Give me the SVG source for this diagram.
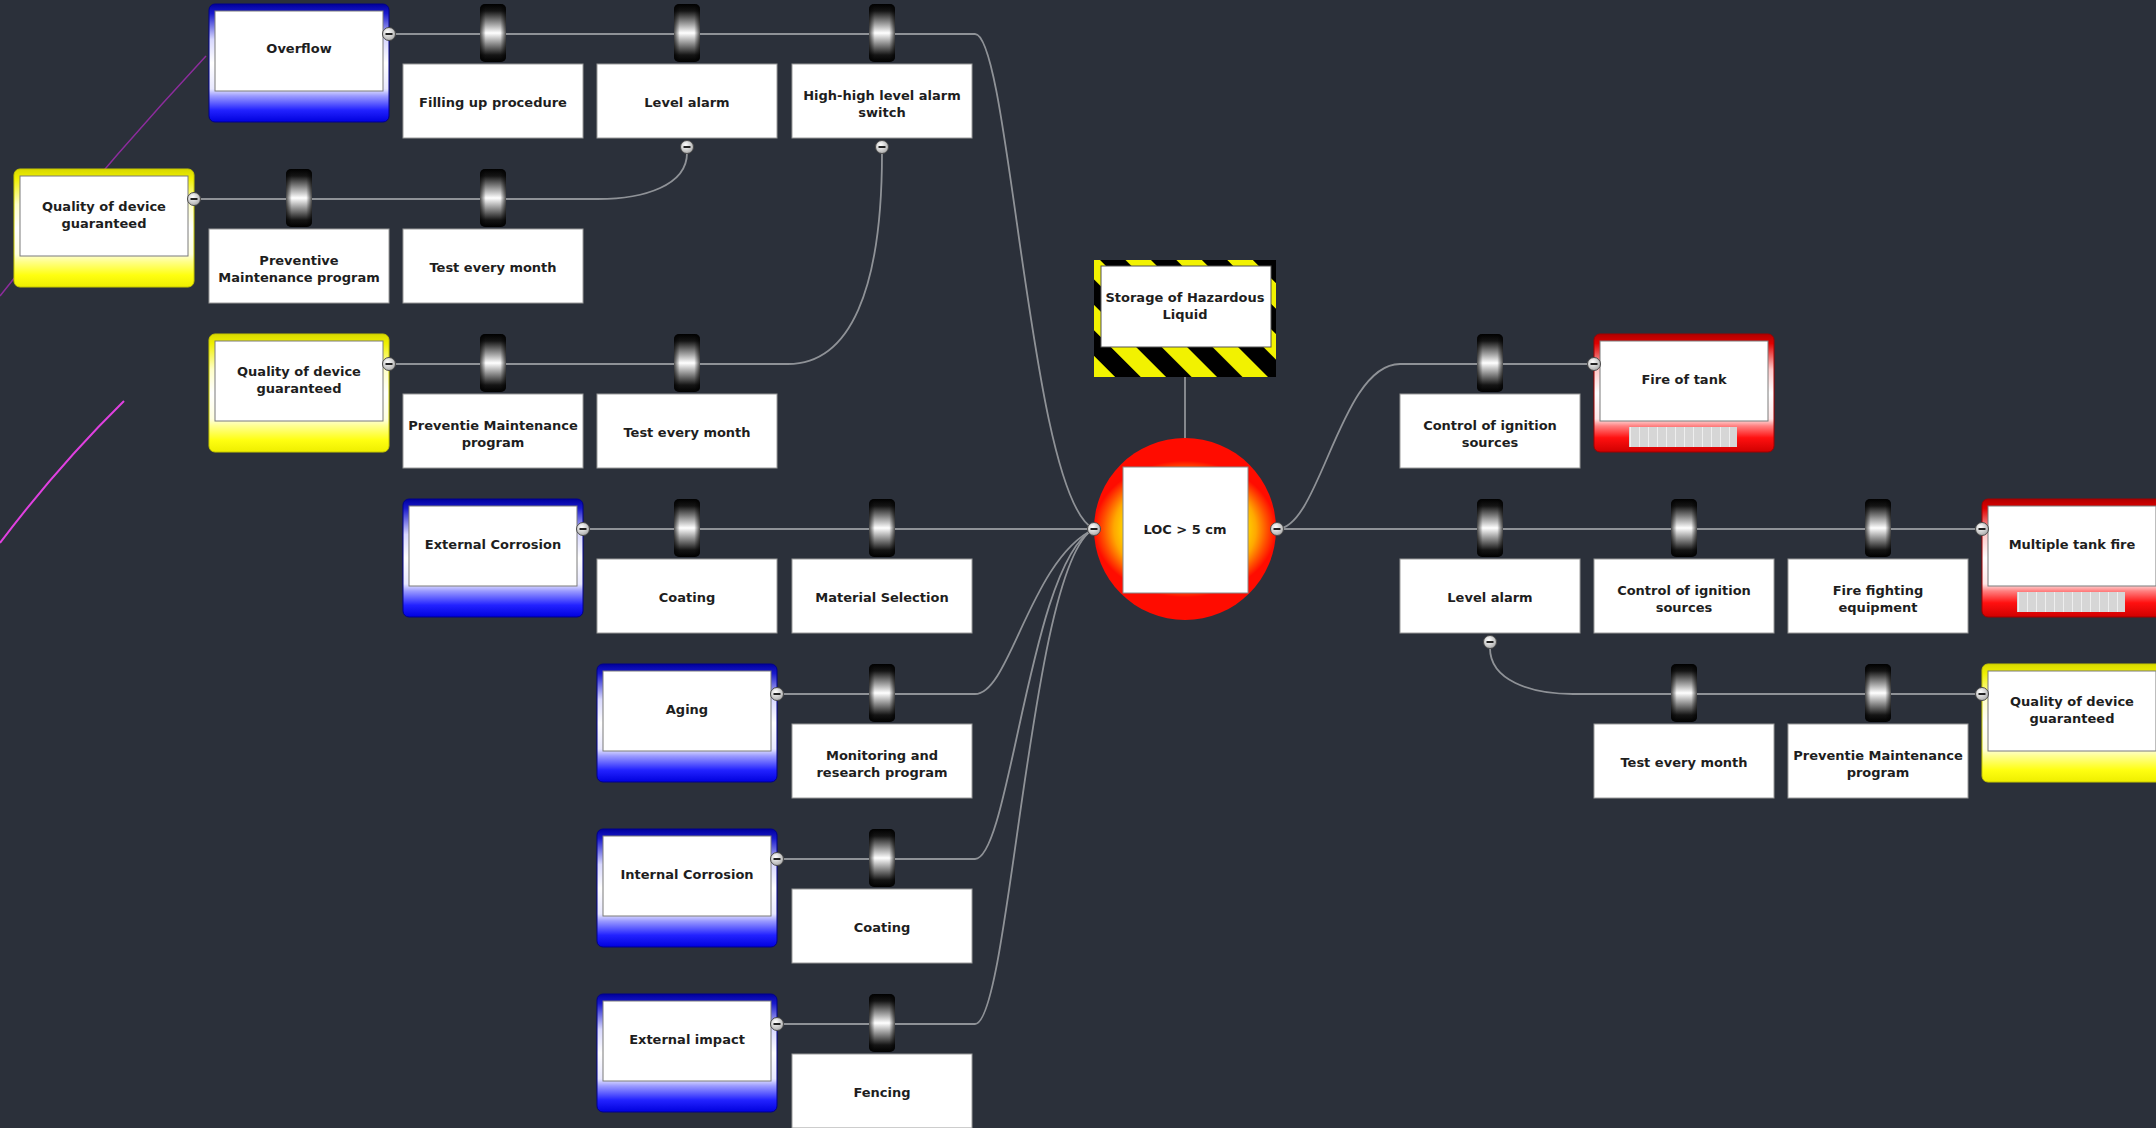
<svg xmlns="http://www.w3.org/2000/svg" xmlns:xlink="http://www.w3.org/1999/xlink" width="2156" height="1128" viewBox="0 0 2156 1128">
<style>
.t{font-family:"DejaVu Sans","Liberation Sans",sans-serif;font-weight:bold;font-size:13px;fill:#1e1e1e;text-anchor:middle}
.box{fill:#ffffff;stroke:#9a9a9a;stroke-width:1}
.in{fill:#ffffff;stroke:#7a7a7a;stroke-width:1}
.cn{fill:none;stroke:#8f9297;stroke-width:1.8}
</style>
<defs>
<linearGradient id="gBlue" x1="0" y1="0" x2="0" y2="1">
<stop offset="0" stop-color="#00009c"/><stop offset="0.08" stop-color="#1a1acc"/><stop offset="0.3" stop-color="#d8d8ff"/><stop offset="0.5" stop-color="#ffffff"/><stop offset="0.72" stop-color="#e8e8ff"/><stop offset="0.78" stop-color="#9a9aff"/><stop offset="0.9" stop-color="#2222ff"/><stop offset="1" stop-color="#0000dd"/>
</linearGradient>
<linearGradient id="gYellow" x1="0" y1="0" x2="0" y2="1">
<stop offset="0" stop-color="#d8d800"/><stop offset="0.08" stop-color="#f0f000"/><stop offset="0.3" stop-color="#ffffc8"/><stop offset="0.5" stop-color="#ffffff"/><stop offset="0.72" stop-color="#ffffe0"/><stop offset="0.78" stop-color="#ffff90"/><stop offset="0.9" stop-color="#ffff10"/><stop offset="1" stop-color="#eeee00"/>
</linearGradient>
<linearGradient id="gRed" x1="0" y1="0" x2="0" y2="1">
<stop offset="0" stop-color="#b00000"/><stop offset="0.08" stop-color="#e00000"/><stop offset="0.3" stop-color="#ffc8c8"/><stop offset="0.5" stop-color="#ffffff"/><stop offset="0.72" stop-color="#ffe8e8"/><stop offset="0.78" stop-color="#ff8080"/><stop offset="0.88" stop-color="#ff1010"/><stop offset="1" stop-color="#d00000"/>
</linearGradient>
<linearGradient id="gBarV" x1="0" y1="0" x2="0" y2="1">
<stop offset="0" stop-color="#000"/><stop offset="0.12" stop-color="#151515"/><stop offset="0.5" stop-color="#ffffff"/><stop offset="0.88" stop-color="#151515"/><stop offset="1" stop-color="#000"/>
</linearGradient>
<linearGradient id="gBarH" x1="0" y1="0" x2="1" y2="0">
<stop offset="0" stop-color="#000" stop-opacity="0.7"/><stop offset="0.22" stop-color="#000" stop-opacity="0"/><stop offset="0.78" stop-color="#000" stop-opacity="0"/><stop offset="1" stop-color="#000" stop-opacity="0.7"/>
</linearGradient>
<radialGradient id="gMb" cx="0.4" cy="0.35" r="0.7">
<stop offset="0" stop-color="#ffffff"/><stop offset="1" stop-color="#a8a8a8"/>
</radialGradient>
<radialGradient id="gLoc" cx="0.5" cy="0.5" r="0.5" gradientTransform="translate(0.5 0.5) scale(1 0.75) translate(-0.5 -0.5)">
<stop offset="0" stop-color="#ffff00"/><stop offset="0.66" stop-color="#ffd800"/><stop offset="0.78" stop-color="#ffa800"/><stop offset="0.9" stop-color="#ff5000"/><stop offset="1" stop-color="#ff0c00"/>
</radialGradient>
<pattern id="pHaz" width="36" height="36" patternUnits="userSpaceOnUse" patternTransform="rotate(-45)">
<rect width="36" height="36" fill="#000"/><rect width="18" height="36" fill="#f2f200"/>
</pattern>
<pattern id="pGrey" width="9" height="20" patternUnits="userSpaceOnUse">
<rect width="9" height="20" fill="#d6d6d6"/><rect width="1" height="20" fill="#eeeeee"/>
</pattern>
<g id="mb"><circle r="6.5" fill="url(#gMb)" stroke="#4a4a4a" stroke-width="1"/><rect x="-3.5" y="-1" width="7" height="2" fill="#222"/></g>
<g id="barrier"><rect width="26" height="58" rx="5" fill="url(#gBarV)"/><rect width="26" height="58" rx="5" fill="url(#gBarH)"/></g>
</defs>
<rect width="2156" height="1128" fill="#2b303a"/>

<g id="stray-lines">
<path d="M 206 56 Q 100 170 0 296" fill="none" stroke="#8c2c9c" stroke-width="1.5"/>
<path d="M 124 401 Q 58 466 0 543" fill="none" stroke="#e040e0" stroke-width="2"/>
</g>

<g id="connectors">
<path class="cn" d="M 389 34 H 975 C 1010 34 1030 500 1094 529"/>
<path class="cn" d="M 194 199 H 598 C 645 199 687 185 687 153"/>
<path class="cn" d="M 389 364 H 788 C 850 364 882 290 882 153"/>
<path class="cn" d="M 583 529 H 1094"/>
<path class="cn" d="M 777 694 H 975 C 1010 694 1030 560 1094 529"/>
<path class="cn" d="M 777 859 H 975 C 1010 859 1030 560 1094 529"/>
<path class="cn" d="M 777 1024 H 975 C 1010 1024 1030 560 1094 529"/>
<path class="cn" d="M 1185 377 V 438"/>
<path class="cn" d="M 1277 529 C 1320 529 1340 364 1400 364 H 1594"/>
<path class="cn" d="M 1277 529 H 1982"/>
<path class="cn" d="M 1490 648 C 1490 680 1530 694 1573 694 H 1982"/>
</g>

<g id="hazard">
<rect x="1094" y="260" width="182" height="117" fill="url(#pHaz)"/>
<rect x="1101" y="266" width="170" height="81" fill="#fff" stroke="#555" stroke-width="1"/>
<text class="t" x="1185" y="302">Storage of Hazardous</text>
<text class="t" x="1185" y="319">Liquid</text>
</g>

<g id="top-event">
<circle cx="1185" cy="529" r="91" fill="url(#gLoc)"/>
<rect x="1123" y="467" width="125" height="126" fill="#fff" stroke="#8a8a8a" stroke-width="1"/>
<text class="t" x="1185" y="534">LOC &gt; 5 cm</text>
<use href="#mb" x="1094" y="529"/>
<use href="#mb" x="1277" y="529"/>
</g>

<!-- threats -->
<g id="t-overflow" transform="translate(209,34)">
<rect x="0" y="-30" width="180" height="118" rx="6" fill="url(#gBlue)" stroke="#00008a"/>
<rect class="in" x="6" y="-23" width="168" height="80"/>
<text class="t" x="90" y="19">Overflow</text>
<use href="#mb" x="180" y="0"/>
</g>
<g id="t-quality1" transform="translate(14,199)">
<rect x="0" y="-30" width="180" height="118" rx="6" fill="url(#gYellow)" stroke="#c8c800"/>
<rect class="in" x="6" y="-23" width="168" height="80"/>
<text class="t" x="90" y="12">Quality of device</text>
<text class="t" x="90" y="29">guaranteed</text>
<use href="#mb" x="180" y="0"/>
</g>
<g id="t-quality2" transform="translate(209,364)">
<rect x="0" y="-30" width="180" height="118" rx="6" fill="url(#gYellow)" stroke="#c8c800"/>
<rect class="in" x="6" y="-23" width="168" height="80"/>
<text class="t" x="90" y="12">Quality of device</text>
<text class="t" x="90" y="29">guaranteed</text>
<use href="#mb" x="180" y="0"/>
</g>
<g id="t-extcorr" transform="translate(403,529)">
<rect x="0" y="-30" width="180" height="118" rx="6" fill="url(#gBlue)" stroke="#00008a"/>
<rect class="in" x="6" y="-23" width="168" height="80"/>
<text class="t" x="90" y="20">External Corrosion</text>
<use href="#mb" x="180" y="0"/>
</g>
<g id="t-aging" transform="translate(597,694)">
<rect x="0" y="-30" width="180" height="118" rx="6" fill="url(#gBlue)" stroke="#00008a"/>
<rect class="in" x="6" y="-23" width="168" height="80"/>
<text class="t" x="90" y="20">Aging</text>
<use href="#mb" x="180" y="0"/>
</g>
<g id="t-intcorr" transform="translate(597,859)">
<rect x="0" y="-30" width="180" height="118" rx="6" fill="url(#gBlue)" stroke="#00008a"/>
<rect class="in" x="6" y="-23" width="168" height="80"/>
<text class="t" x="90" y="20">Internal Corrosion</text>
<use href="#mb" x="180" y="0"/>
</g>
<g id="t-extimpact" transform="translate(597,1024)">
<rect x="0" y="-30" width="180" height="118" rx="6" fill="url(#gBlue)" stroke="#00008a"/>
<rect class="in" x="6" y="-23" width="168" height="80"/>
<text class="t" x="90" y="20">External impact</text>
<use href="#mb" x="180" y="0"/>
</g>

<!-- consequences -->
<g id="c-firetank" transform="translate(1594,364)">
<rect x="0" y="-30" width="180" height="118" rx="6" fill="url(#gRed)" stroke="#a00000"/>
<rect class="in" x="6" y="-23" width="168" height="80"/>
<rect x="35" y="63" width="108" height="20" fill="url(#pGrey)"/>
<text class="t" x="90" y="20">Fire of tank</text>
<use href="#mb" x="0" y="0"/>
</g>
<g id="c-multi" transform="translate(1982,529)">
<rect x="0" y="-30" width="180" height="118" rx="6" fill="url(#gRed)" stroke="#a00000"/>
<rect class="in" x="6" y="-23" width="168" height="80"/>
<rect x="35" y="63" width="108" height="20" fill="url(#pGrey)"/>
<text class="t" x="90" y="20">Multiple tank fire</text>
<use href="#mb" x="0" y="0"/>
</g>
<g id="c-quality3" transform="translate(1982,694)">
<rect x="0" y="-30" width="180" height="118" rx="6" fill="url(#gYellow)" stroke="#c8c800"/>
<rect class="in" x="6" y="-23" width="168" height="80"/>
<text class="t" x="90" y="12">Quality of device</text>
<text class="t" x="90" y="29">guaranteed</text>
<use href="#mb" x="0" y="0"/>
</g>

<!-- barriers / controls -->
<g id="b-filling" transform="translate(403,34)">
<use href="#barrier" x="77" y="-30"/><rect class="box" x="0" y="30" width="180" height="74"/>
<text class="t" x="90" y="73">Filling up procedure</text>
</g>
<g id="b-levelalarm1" transform="translate(597,34)">
<use href="#barrier" x="77" y="-30"/><rect class="box" x="0" y="30" width="180" height="74"/>
<text class="t" x="90" y="73">Level alarm</text>
<use href="#mb" x="90" y="113"/>
</g>
<g id="b-highhigh" transform="translate(792,34)">
<use href="#barrier" x="77" y="-30"/><rect class="box" x="0" y="30" width="180" height="74"/>
<text class="t" x="90" y="66">High-high level alarm</text>
<text class="t" x="90" y="83">switch</text>
<use href="#mb" x="90" y="113"/>
</g>
<g id="b-pm1" transform="translate(209,199)">
<use href="#barrier" x="77" y="-30"/><rect class="box" x="0" y="30" width="180" height="74"/>
<text class="t" x="90" y="66">Preventive</text>
<text class="t" x="90" y="83">Maintenance program</text>
</g>
<g id="b-test1" transform="translate(403,199)">
<use href="#barrier" x="77" y="-30"/><rect class="box" x="0" y="30" width="180" height="74"/>
<text class="t" x="90" y="73">Test every month</text>
</g>
<g id="b-pm2" transform="translate(403,364)">
<use href="#barrier" x="77" y="-30"/><rect class="box" x="0" y="30" width="180" height="74"/>
<text class="t" x="90" y="66">Preventie Maintenance</text>
<text class="t" x="90" y="83">program</text>
</g>
<g id="b-test2" transform="translate(597,364)">
<use href="#barrier" x="77" y="-30"/><rect class="box" x="0" y="30" width="180" height="74"/>
<text class="t" x="90" y="73">Test every month</text>
</g>
<g id="b-coating1" transform="translate(597,529)">
<use href="#barrier" x="77" y="-30"/><rect class="box" x="0" y="30" width="180" height="74"/>
<text class="t" x="90" y="73">Coating</text>
</g>
<g id="b-material" transform="translate(792,529)">
<use href="#barrier" x="77" y="-30"/><rect class="box" x="0" y="30" width="180" height="74"/>
<text class="t" x="90" y="73">Material Selection</text>
</g>
<g id="b-monitor" transform="translate(792,694)">
<use href="#barrier" x="77" y="-30"/><rect class="box" x="0" y="30" width="180" height="74"/>
<text class="t" x="90" y="66">Monitoring and</text>
<text class="t" x="90" y="83">research program</text>
</g>
<g id="b-coating2" transform="translate(792,859)">
<use href="#barrier" x="77" y="-30"/><rect class="box" x="0" y="30" width="180" height="74"/>
<text class="t" x="90" y="73">Coating</text>
</g>
<g id="b-fencing" transform="translate(792,1024)">
<use href="#barrier" x="77" y="-30"/><rect class="box" x="0" y="30" width="180" height="74"/>
<text class="t" x="90" y="73">Fencing</text>
</g>
<g id="b-ign1" transform="translate(1400,364)">
<use href="#barrier" x="77" y="-30"/><rect class="box" x="0" y="30" width="180" height="74"/>
<text class="t" x="90" y="66">Control of ignition</text>
<text class="t" x="90" y="83">sources</text>
</g>
<g id="b-levelalarm2" transform="translate(1400,529)">
<use href="#barrier" x="77" y="-30"/><rect class="box" x="0" y="30" width="180" height="74"/>
<text class="t" x="90" y="73">Level alarm</text>
<use href="#mb" x="90" y="113"/>
</g>
<g id="b-ign2" transform="translate(1594,529)">
<use href="#barrier" x="77" y="-30"/><rect class="box" x="0" y="30" width="180" height="74"/>
<text class="t" x="90" y="66">Control of ignition</text>
<text class="t" x="90" y="83">sources</text>
</g>
<g id="b-firefight" transform="translate(1788,529)">
<use href="#barrier" x="77" y="-30"/><rect class="box" x="0" y="30" width="180" height="74"/>
<text class="t" x="90" y="66">Fire fighting</text>
<text class="t" x="90" y="83">equipment</text>
</g>
<g id="b-test3" transform="translate(1594,694)">
<use href="#barrier" x="77" y="-30"/><rect class="box" x="0" y="30" width="180" height="74"/>
<text class="t" x="90" y="73">Test every month</text>
</g>
<g id="b-pm3" transform="translate(1788,694)">
<use href="#barrier" x="77" y="-30"/><rect class="box" x="0" y="30" width="180" height="74"/>
<text class="t" x="90" y="66">Preventie Maintenance</text>
<text class="t" x="90" y="83">program</text>
</g>
</svg>
